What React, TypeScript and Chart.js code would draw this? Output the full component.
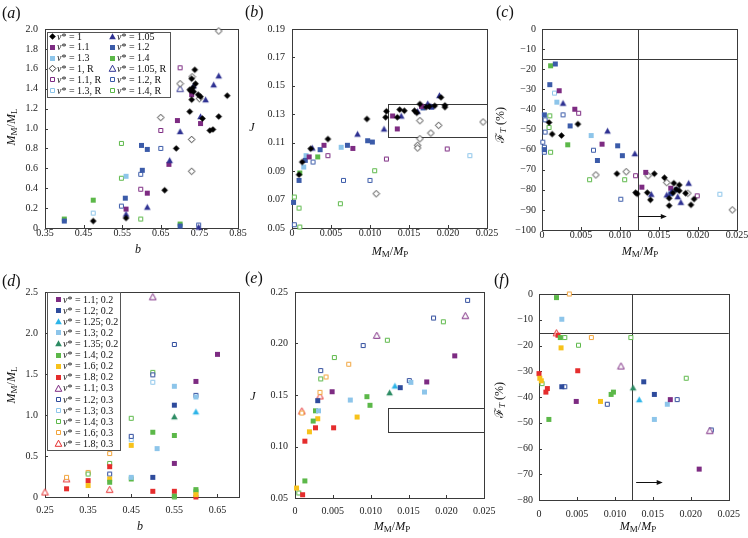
import React, { useEffect, useRef } from 'react';
import { Chart, registerables } from 'chart.js';
Chart.register(...registerables);

const SERIF = '"Liberation Serif", "DejaVu Serif", "Times New Roman", serif';

// ---------------- series labels ----------------
const ABC_LABELS = ['ν* = 1', 'ν* = 1.05', 'ν* = 1.1', 'ν* = 1.2', 'ν* = 1.3', 'ν* = 1.4',
  'ν* = 1, R', 'ν* = 1.05, R', 'ν* = 1.1, R', 'ν* = 1.2, R', 'ν* = 1.3, R', 'ν* = 1.4, R'];
const DEF_LABELS = ['ν* = 1.1; 0.2', 'ν* = 1.2; 0.2', 'ν* = 1.25; 0.2', 'ν* = 1.3; 0.2', 'ν* = 1.35; 0.2',
  'ν* = 1.4; 0.2', 'ν* = 1.6; 0.2', 'ν* = 1.8; 0.2', 'ν* = 1.1; 0.3', 'ν* = 1.2; 0.3', 'ν* = 1.3; 0.3',
  'ν* = 1.4; 0.3', 'ν* = 1.6; 0.3', 'ν* = 1.8; 0.3'];

// ---------------- panel (a): b vs MM/ML ----------------
const A_NU1 = [[0.475, 0.07], [0.56, 0.10], [0.66, 0.38], [0.69, 0.80], [0.725, 1.17], [0.725, 1.39], [0.73, 1.50], [0.738, 1.59], [0.74, 1.45], [0.733, 1.41], [0.728, 1.38], [0.73, 1.29], [0.735, 1.37], [0.747, 1.34], [0.753, 1.32], [0.758, 1.10], [0.777, 0.98], [0.785, 0.99], [0.80, 1.12], [0.822, 1.33]];
const A_NU105 = [[0.56, 0.14], [0.615, 0.21], [0.673, 0.68], [0.70, 0.97], [0.735, 1.43], [0.766, 1.29], [0.753, 1.12], [0.787, 1.44], [0.80, 1.53], [0.748, 0.01]];
const A_NU11 = [[0.56, 0.19], [0.615, 0.35], [0.671, 0.64], [0.693, 1.08], [0.73, 1.34], [0.753, 1.05]];
const A_NU12 = [[0.40, 0.07], [0.558, 0.30], [0.60, 0.83], [0.615, 0.79], [0.602, 0.58], [0.70, 0.02]];
const A_NU13 = [[0.56, 0.52]];
const A_NU14 = [[0.40, 0.09], [0.475, 0.28], [0.70, 0.04]];
const A_NU1R = [[0.80, 1.98], [0.731, 1.52], [0.70, 1.45], [0.65, 1.11], [0.73, 0.89], [0.73, 0.57], [0.75, 1.30]];
const A_NU105R = [[0.70, 1.40]];
const A_NU11R = [[0.598, 0.39], [0.65, 0.98], [0.70, 1.61]];
const A_NU12R = [[0.548, 0.22], [0.598, 0.54], [0.65, 0.80], [0.748, 0.03]];
const A_NU13R = [[0.475, 0.15]];
const A_NU14R = [[0.548, 0.85], [0.548, 0.50], [0.598, 0.09]];

// ---------------- panel (b): MM/MP vs J ----------------
const B_NU1 = [[0.0009, 0.0875], [0.0013, 0.0964], [0.0024, 0.1058], [0.0046, 0.1126], [0.0096, 0.1267], [0.0120, 0.1279], [0.0121, 0.1321], [0.0135, 0.1279], [0.0138, 0.1333], [0.0144, 0.1325], [0.0157, 0.1325], [0.0160, 0.131], [0.0164, 0.1372], [0.0172, 0.1351], [0.0176, 0.1356], [0.0183, 0.136], [0.0191, 0.1419], [0.0196, 0.1363], [0.0196, 0.135]];
const B_NU105 = [[0.0026, 0.1063], [0.0084, 0.1161], [0.0118, 0.1197], [0.0140, 0.1288], [0.0161, 0.1321], [0.0174, 0.1375], [0.0178, 0.1356], [0.0189, 0.1433]];
const B_NU11 = [[0.0022, 0.100], [0.0041, 0.1082], [0.0078, 0.106], [0.0129, 0.1288], [0.0135, 0.1197], [0.0166, 0.1356]];
const B_NU12 = [[0.0002, 0.068], [0.0009, 0.0835], [0.0017, 0.0976], [0.0036, 0.1051], [0.0071, 0.1082], [0.0097, 0.1114], [0.0103, 0.1105], [0.0168, 0.1345], [0.0179, 0.135]];
const B_NU13 = [[0.0015, 0.0929], [0.0018, 0.1009], [0.0063, 0.1068]];
const B_NU14 = [[0.0010, 0.0887], [0.0033, 0.100]];
const B_NU1R = [[0.0108, 0.0741], [0.0161, 0.1082], [0.0161, 0.1063], [0.0164, 0.1128], [0.0164, 0.1255], [0.0178, 0.1168], [0.0188, 0.1222], [0.0245, 0.1246]];
const B_NU105R: number[][] = [];
const B_NU11R = [[0.0046, 0.1009], [0.0121, 0.0985], [0.0199, 0.1056]];
const B_NU12R = [[0.0003, 0.0523], [0.0027, 0.0964], [0.0066, 0.0835], [0.0100, 0.0835]];
const B_NU13R = [[0.0228, 0.1009]];
const B_NU14R = [[0.0003, 0.0718], [0.0009, 0.064], [0.0010, 0.0507], [0.0062, 0.0671], [0.0106, 0.0903]];
const B_BOX_X = [0.0123, 0.025];
const B_BOX_Y = [0.114, 0.137];

// ---------------- panel (c): MM/MP vs F_T (%) ----------------
const C_NU1 = [[0.0009, -46.5], [0.0013, -52.3], [0.0025, -53], [0.0046, -47.3], [0.0096, -72], [0.0120, -81.4], [0.0122, -82], [0.0135, -81.4], [0.0139, -85], [0.0144, -72], [0.0157, -74], [0.0163, -84.2], [0.0163, -87.9], [0.0168, -81.5], [0.0169, -76.7], [0.0172, -79.7], [0.0176, -77.6], [0.0176, -80.5], [0.0184, -81.7], [0.0191, -87.5], [0.0195, -84.6]];
const C_NU105 = [[0.0027, -36.9], [0.0084, -50.7], [0.0119, -62], [0.0140, -82.2], [0.0160, -82.5], [0.0166, -81], [0.0174, -83.4], [0.0178, -86.2], [0.0188, -76.7]];
const C_NU11 = [[0.0022, -30.7], [0.0042, -39.9], [0.0077, -57.3], [0.0128, -78.7], [0.0133, -71.3], [0.0165, -79.2]];
const C_NU12 = [[0.0017, -17.4], [0.0010, -27.7], [0.0003, -42.7], [0.0036, -48.2], [0.0003, -60], [0.0071, -65.4], [0.0097, -58.1], [0.0103, -63], [0.0165, -82], [0.0172, -80]];
const C_NU13 = [[0.0019, -36.4], [0.0063, -53]];
const C_NU14 = [[0.0011, -18.3], [0.0033, -57.6]];
const C_NU1R = [[0.0069, -72.6], [0.0108, -71], [0.0136, -73], [0.0160, -76.4], [0.0187, -81.7], [0.0244, -90]];
const C_NU105R: number[][] = [];
const C_NU11R = [[0.0047, -41.9], [0.0120, -73], [0.0199, -83]];
const C_NU12R = [[0.0027, -42.7], [0.0004, -45.2], [0.0004, -51.3], [0.0001, -56.3], [0.0003, -58.8], [0.0003, -61.3], [0.0066, -60.3], [0.0101, -84.7]];
const C_NU13R = [[0.0016, -31.9], [0.0228, -82.2]];
const C_NU14R = [[0.0010, -43.2], [0.0009, -49], [0.0003, -59.3], [0.0011, -61.3], [0.0061, -75], [0.0106, -75]];
const C_VLINE_X = 0.0123;
const C_HLINE_Y = -15;
const C_ARROW_X = [0.0123, 0.016];
const C_ARROW_Y = -93;

// ---------------- panel (d): b vs MM/ML ----------------
const D_11_2 = [[0.55, 0.41], [0.60, 1.41], [0.65, 1.74]];
const D_12_2 = [[0.50, 0.24], [0.55, 1.12]];
const D_125_2 = [[0.60, 1.04]];
const D_13_2 = [[0.45, 0.24], [0.51, 0.59], [0.55, 1.35], [0.60, 1.22]];
const D_135_2 = [[0.55, 0.98]];
const D_14_2 = [[0.40, 0.18], [0.45, 0.22], [0.50, 0.79], [0.55, 0.75], [0.60, 0.09], [0.55, 0.01]];
const D_16_2 = [[0.35, 0.14], [0.40, 0.22], [0.45, 0.63], [0.60, 0.03]];
const D_18_2 = [[0.30, 0.10], [0.35, 0.20], [0.40, 0.37], [0.50, 0.07], [0.55, 0.07], [0.60, 0.0]];
const D_11_3 = [[0.50, 2.44]];
const D_12_3 = [[0.40, 0.28], [0.45, 0.74], [0.50, 1.49], [0.55, 1.86], [0.60, 1.24]];
const D_13_3 = [[0.45, 0.70], [0.50, 1.40]];
const D_14_3 = [[0.35, 0.28], [0.40, 0.41], [0.45, 0.96], [0.50, 1.52], [0.55, 0.0], [0.60, 0.07]];
const D_16_3 = [[0.30, 0.24], [0.35, 0.30], [0.40, 0.53]];
const D_18_3 = [[0.25, 0.06], [0.30, 0.22], [0.40, 0.09]];

// ---------------- panel (e): MM/MP vs J ----------------
const E_11_2 = [[0.0211, 0.188], [0.0174, 0.1627], [0.0049, 0.1532]];
const E_12_2 = [[0.0139, 0.1571], [0.0030, 0.1445]];
const E_125_2 = [[0.0132, 0.1588]];
const E_13_2 = [[0.0153, 0.1623], [0.0171, 0.1529], [0.0073, 0.1451], [0.0031, 0.1347]];
const E_135_2 = [[0.0125, 0.1523]];
const E_14_2 = [[0.0095, 0.1484], [0.0099, 0.140], [0.0027, 0.1347], [0.0024, 0.1247], [0.0013, 0.0666]];
const E_16_2 = [[0.0082, 0.1286], [0.0030, 0.127], [0.0019, 0.1143], [0.0002, 0.0597]];
const E_18_2 = [[0.0027, 0.1182], [0.0051, 0.1182], [0.0013, 0.1052], [0.0010, 0.0532]];
const E_11_3 = [[0.0225, 0.227], [0.0108, 0.2078]];
const E_12_3 = [[0.0228, 0.2419], [0.0183, 0.2247], [0.0090, 0.198], [0.0034, 0.1737], [0.0151, 0.164]];
const E_13_3: number[][] = [];
const E_14_3 = [[0.0196, 0.2211], [0.0122, 0.2032], [0.0052, 0.1864], [0.0034, 0.1656], [0.0005, 0.0549]];
const E_16_3 = [[0.0071, 0.1799], [0.0041, 0.1675], [0.0033, 0.1526], [0.0009, 0.1325]];
const E_18_3 = [[0.0033, 0.149], [0.0009, 0.1344]];
const E_BOX_X = [0.0123, 0.025];
const E_BOX_Y = [0.114, 0.137];

// ---------------- panel (f): MM/MP vs F_T (%) ----------------
const F_11_2 = [[0.0049, -41.7], [0.0173, -41], [0.0211, -68]];
const F_12_2 = [[0.0030, -36], [0.0138, -34.1], [0.0152, -39]];
const F_125_2 = [[0.0132, -41]];
const F_13_2 = [[0.0030, -9.8], [0.0169, -42.8], [0.0152, -48.7]];
const F_135_2 = [[0.0124, -36.4]];
const F_14_2 = [[0.0023, -1.4], [0.0028, -16.9], [0.0095, -39], [0.0098, -38.1], [0.0013, -48.7]];
const F_16_2 = [[0.0029, -20.9], [0.0001, -32.7], [0.0003, -33.7], [0.0081, -41.7]];
const F_18_2 = [[0.0025, -16], [0.0051, -29.8], [0.0, -30.9], [0.0011, -36.7], [0.0009, -38.1]];
const F_11_3 = [[0.0108, -28], [0.0225, -53.1]];
const F_12_3 = [[0.0034, -36], [0.0090, -42.8], [0.0182, -41], [0.0227, -52.8]];
const F_13_3: number[][] = [];
const F_14_3 = [[0.0034, -16.9], [0.0121, -16.9], [0.0052, -19.9], [0.0004, -34.8], [0.0194, -32.7]];
const F_16_3 = [[0.0040, 0], [0.0069, -16.9]];
const F_18_3 = [[0.0023, -15.1]];
const F_VLINE_X = 0.0123;
const F_HLINE_Y = -15;
const F_ARROW_X = [0.0128, 0.0163];
const F_ARROW_Y = -73;

// ---------------- ticks ----------------
const A_XTICKS = [0.35, 0.45, 0.55, 0.65, 0.75, 0.85];
const A_YTICKS = [0, 0.2, 0.4, 0.6, 0.8, 1.0, 1.2, 1.4, 1.6, 1.8, 2.0];
const MP_XTICKS = [0, 0.005, 0.010, 0.015, 0.020, 0.025];
const B_YTICKS = [0.05, 0.07, 0.09, 0.11, 0.13, 0.15, 0.17, 0.19];
const C_YTICKS = [0, -10, -20, -30, -40, -50, -60, -70, -80, -90, -100];
const D_XTICKS = [0.25, 0.35, 0.45, 0.55, 0.65];
const D_YTICKS = [0, 0.5, 1.0, 1.5, 2.0, 2.5];
const E_YTICKS = [0.05, 0.10, 0.15, 0.20, 0.25];
const F_YTICKS = [0, -10, -20, -30, -40, -50, -60, -70, -80];

// ---------------- styles ----------------
const ABC_SHAPES = ['diamond', 'triangle', 'square', 'square', 'square', 'square', 'diamond', 'triangle', 'square', 'square', 'square', 'square'];
const ABC_COLORS = ['#000000', '#2e3192', '#7d2b82', '#3b5ba9', '#8dc5ea', '#5cb849', '#333333', '#2e3192', '#7d2b82', '#3b5ba9', '#8dc5ea', '#5cb849'];
const ABC_FILLED = [true, true, true, true, true, true, false, false, false, false, false, false];
const DEF_SHAPES = ['square', 'square', 'triangle', 'square', 'triangle', 'square', 'square', 'square', 'triangle', 'square', 'square', 'square', 'square', 'triangle'];
const DEF_COLORS = ['#7d2b82', '#2e4b9c', '#2cb4e8', '#8dc5ea', '#2c8b63', '#5cb849', '#f7c21b', '#e52d2d', '#7d2b82', '#2e4b9c', '#8dc5ea', '#5cb849', '#f1a43c', '#e52d2d'];
const DEF_FILLED = [true, true, true, true, true, true, true, true, false, false, false, false, false, false];

const fmtFixed = (n: number) => (v: number) => v.toFixed(n);
const fmtZero = (n: number) => (v: number) => (v === 0 ? '0' : v.toFixed(n));
const fmtNeg = (v: number) => (v === 0 ? '0' : '\u2212' + Math.abs(v));

type Panel = {
  box: number[]; plot: number[]; xr: number[]; yr: number[];
  xTicks: number[]; yTicks: number[]; xFmt: (v: number) => string; yFmt: (v: number) => string;
  xPad: number; yPad: number;
  labels: string[]; shapes: string[]; colors: string[]; filled: boolean[]; data: number[][][];
  rect?: { x: number[]; y: number[] };
  vline?: number; hline?: number;
  arrow?: { x: number[]; y: number };
  legend?: { x: number; y: number; w: number; h: number; cols: number; colX: number[]; rowY0: number; rowH: number };
};

const PANELS: Panel[] = [
  {
    box: [0, 0, 258, 262], plot: [45, 29, 238, 228], xr: [0.35, 0.85], yr: [0, 2],
    xTicks: A_XTICKS, yTicks: A_YTICKS, xFmt: fmtFixed(2), yFmt: fmtZero(1), xPad: -1, yPad: 7,
    labels: ABC_LABELS, shapes: ABC_SHAPES, colors: ABC_COLORS, filled: ABC_FILLED,
    data: [A_NU1, A_NU105, A_NU11, A_NU12, A_NU13, A_NU14, A_NU1R, A_NU105R, A_NU11R, A_NU12R, A_NU13R, A_NU14R],
    legend: { x: 2, y: 3, w: 123, h: 65, cols: 2, colX: [7, 67], rowY0: 7.5, rowH: 10.8 },
  },
  {
    box: [245, 0, 258, 262], plot: [292, 29, 487, 228], xr: [0, 0.025], yr: [0.05, 0.19],
    xTicks: MP_XTICKS, yTicks: B_YTICKS, xFmt: fmtZero(3), yFmt: fmtFixed(2), xPad: -1, yPad: 7,
    labels: ABC_LABELS, shapes: ABC_SHAPES, colors: ABC_COLORS, filled: ABC_FILLED,
    data: [B_NU1, B_NU105, B_NU11, B_NU12, B_NU13, B_NU14, B_NU1R, B_NU105R, B_NU11R, B_NU12R, B_NU13R, B_NU14R],
    rect: { x: B_BOX_X, y: B_BOX_Y },
  },
  {
    box: [495, 0, 253, 262], plot: [542, 29, 737, 230], xr: [0, 0.025], yr: [-100, 0],
    xTicks: MP_XTICKS, yTicks: C_YTICKS, xFmt: fmtZero(3), yFmt: fmtNeg, xPad: -1, yPad: 6,
    labels: ABC_LABELS, shapes: ABC_SHAPES, colors: ABC_COLORS, filled: ABC_FILLED,
    data: [C_NU1, C_NU105, C_NU11, C_NU12, C_NU13, C_NU14, C_NU1R, C_NU105R, C_NU11R, C_NU12R, C_NU13R, C_NU14R],
    vline: C_VLINE_X, hline: C_HLINE_Y, arrow: { x: C_ARROW_X, y: C_ARROW_Y },
  },
  {
    box: [0, 265, 258, 273], plot: [45, 292, 239, 497], xr: [0.25, 0.7], yr: [0, 2.5],
    xTicks: D_XTICKS, yTicks: D_YTICKS, xFmt: fmtFixed(2), yFmt: fmtZero(1), xPad: 7.5, yPad: 7,
    labels: DEF_LABELS, shapes: DEF_SHAPES, colors: DEF_COLORS, filled: DEF_FILLED,
    data: [D_11_2, D_12_2, D_125_2, D_13_2, D_135_2, D_14_2, D_16_2, D_18_2, D_11_3, D_12_3, D_13_3, D_14_3, D_16_3, D_18_3],
    legend: { x: 2, y: 0, w: 73, h: 158, cols: 1, colX: [13], rowY0: 7.5, rowH: 11.1 },
  },
  {
    box: [245, 265, 258, 273], plot: [295, 292, 489, 498], xr: [0, 0.025], yr: [0.05, 0.25],
    xTicks: MP_XTICKS, yTicks: E_YTICKS, xFmt: fmtZero(3), yFmt: fmtFixed(2), xPad: 7.5, yPad: 7,
    labels: DEF_LABELS, shapes: DEF_SHAPES, colors: DEF_COLORS, filled: DEF_FILLED,
    data: [E_11_2, E_12_2, E_125_2, E_13_2, E_135_2, E_14_2, E_16_2, E_18_2, E_11_3, E_12_3, E_13_3, E_14_3, E_16_3, E_18_3],
    rect: { x: E_BOX_X, y: E_BOX_Y },
  },
  {
    box: [495, 265, 253, 273], plot: [539, 294, 737, 500], xr: [0, 0.025], yr: [-80, 0],
    xTicks: MP_XTICKS, yTicks: F_YTICKS, xFmt: fmtZero(3), yFmt: fmtNeg, xPad: 8, yPad: 6,
    labels: DEF_LABELS, shapes: DEF_SHAPES, colors: DEF_COLORS, filled: DEF_FILLED,
    data: [F_11_2, F_12_2, F_125_2, F_13_2, F_135_2, F_14_2, F_16_2, F_18_2, F_11_3, F_12_3, F_13_3, F_14_3, F_16_3, F_18_3],
    vline: F_VLINE_X, hline: F_HLINE_Y, arrow: { x: F_ARROW_X, y: F_ARROW_Y },
  },
];

function makeMarker(shape: string, color: string, filled: boolean): HTMLCanvasElement {
  const c = document.createElement('canvas');
  c.width = 9; c.height = 9;
  const g = c.getContext('2d')!;
  g.lineWidth = 1;
  g.fillStyle = filled ? color : '#ffffff';
  g.strokeStyle = color;
  g.beginPath();
  if (shape === 'square') {
    if (filled) g.rect(2, 2, 5, 5); else g.rect(2.5, 2.5, 4, 4);
  } else if (shape === 'triangle') {
    g.moveTo(4.5, 1.2); g.lineTo(7.8, 7.3); g.lineTo(1.2, 7.3); g.closePath();
  } else {
    g.moveTo(4.5, 1.2); g.lineTo(7.8, 4.5); g.lineTo(4.5, 7.8); g.lineTo(1.2, 4.5); g.closePath();
  }
  g.fill();
  if (!filled) g.stroke();
  return c;
}

function makeDecor(p: Panel, markers: HTMLCanvasElement[]) {
  const R = (v: number) => Math.round(v) + 0.5;
  return {
    id: 'decor',
    beforeDatasetsDraw(chart: any) {
      const { ctx, chartArea: ca, scales } = chart;
      const xs = scales.x, ys = scales.y;
      ctx.save();
      ctx.strokeStyle = '#3a3a3a';
      ctx.lineWidth = 1;
      ctx.beginPath();
      for (const t of xs.ticks) {
        const px = R(xs.getPixelForValue(t.value));
        ctx.moveTo(px, ca.bottom); ctx.lineTo(px, ca.bottom - 3);
      }
      for (const t of ys.ticks) {
        const py = R(ys.getPixelForValue(t.value));
        ctx.moveTo(ca.left, py); ctx.lineTo(ca.left + 3, py);
      }
      ctx.stroke();
      ctx.strokeRect(R(ca.left), R(ca.top), Math.round(ca.right) - Math.round(ca.left), Math.round(ca.bottom) - Math.round(ca.top));
      if (p.rect) {
        const x1 = R(xs.getPixelForValue(p.rect.x[0])), x2 = R(xs.getPixelForValue(p.rect.x[1]));
        const y1 = R(ys.getPixelForValue(p.rect.y[1])), y2 = R(ys.getPixelForValue(p.rect.y[0]));
        ctx.strokeRect(x1, y1, x2 - x1, y2 - y1);
      }
      ctx.beginPath();
      if (p.vline !== undefined) {
        const px = R(xs.getPixelForValue(p.vline));
        ctx.moveTo(px, ca.top); ctx.lineTo(px, ca.bottom);
      }
      if (p.hline !== undefined) {
        const py = R(ys.getPixelForValue(p.hline));
        ctx.moveTo(ca.left, py); ctx.lineTo(ca.right, py);
      }
      ctx.stroke();
      ctx.restore();
    },
    afterDatasetsDraw(chart: any) {
      const { ctx, chartArea: ca, scales } = chart;
      const xs = scales.x, ys = scales.y;
      ctx.save();
      if (p.arrow) {
        const x1 = xs.getPixelForValue(p.arrow.x[0]), x2 = xs.getPixelForValue(p.arrow.x[1]);
        const y = R(ys.getPixelForValue(p.arrow.y));
        ctx.strokeStyle = '#111'; ctx.fillStyle = '#111'; ctx.lineWidth = 1;
        ctx.beginPath(); ctx.moveTo(x1, y); ctx.lineTo(x2 - 4, y); ctx.stroke();
        ctx.beginPath(); ctx.moveTo(x2, y); ctx.lineTo(x2 - 6, y - 2.5); ctx.lineTo(x2 - 6, y + 2.5); ctx.closePath(); ctx.fill();
      }
      if (p.legend) {
        const L = p.legend;
        const x0 = Math.round(ca.left + L.x), y0 = Math.round(ca.top + L.y);
        ctx.fillStyle = '#ffffff';
        ctx.fillRect(x0, y0, L.w, L.h);
        ctx.strokeStyle = '#555';
        ctx.lineWidth = 1;
        ctx.strokeRect(x0 + 0.5, y0 + 0.5, L.w, L.h);
        ctx.textBaseline = 'middle';
        ctx.fillStyle = '#111';
        p.labels.forEach((lab, i) => {
          const col = i % L.cols, row = Math.floor(i / L.cols);
          const cy = ca.top + L.rowY0 + row * L.rowH;
          const mx = ca.left + L.colX[col];
          ctx.drawImage(markers[i], Math.round(mx - 4.5), Math.round(cy - 4.5));
          let tx = mx + 5;
          ctx.font = `italic 10px ${SERIF}`;
          ctx.fillText(lab.charAt(0), tx, cy + 0.5);
          tx += ctx.measureText(lab.charAt(0)).width;
          ctx.font = `10px ${SERIF}`;
          ctx.fillText(lab.slice(1), tx, cy + 0.5);
        });
      }
      ctx.restore();
    },
  };
}

const subStyle: React.CSSProperties = { fontSize: '75%', verticalAlign: '-0.3em', fontStyle: 'normal' };
const MRatio = ({ d }: { d: string }) => (
  <span><i>M</i><span style={subStyle}>M</span>/<i>M</i><span style={subStyle}>{d}</span></span>
);
const FT = () => (
  <span>ℱ<span style={{ ...subStyle, fontStyle: 'italic' }}>T</span> (%)</span>
);

const abs = (x: number, y: number, rot = false): React.CSSProperties => ({
  position: 'absolute', left: x, top: y, whiteSpace: 'nowrap', fontFamily: SERIF, fontSize: 12, color: '#111',
  transform: rot ? 'translate(-50%,-50%) rotate(-90deg)' : 'translate(-50%,-50%)', lineHeight: 1,
});
const letter = (x: number, y: number): React.CSSProperties => ({
  position: 'absolute', left: x, top: y, fontFamily: SERIF, fontSize: 16, color: '#111', lineHeight: 1, whiteSpace: 'nowrap',
});

export default function App() {
  const refs = useRef<(HTMLCanvasElement | null)[]>([]);
  useEffect(() => {
    const charts: Chart[] = [];
    PANELS.forEach((p, pi) => {
      const cv = refs.current[pi];
      if (!cv) return;
      const markers = p.labels.map((_, i) => makeMarker(p.shapes[i], p.colors[i], p.filled[i]));
      const [bl, bt, bw, bh] = p.box;
      const [pl, pt, pr, pb] = p.plot;
      const chart = new Chart(cv, {
        type: 'scatter',
        data: {
          datasets: p.labels.map((lab, i) => ({
            label: lab,
            data: p.data[i].map(([x, y]) => ({ x, y })),
            pointStyle: markers[i] as any,
            pointRadius: 4,
            pointHoverRadius: 4,
            clip: false as any,
          })),
        },
        options: {
          responsive: false,
          animation: false,
          devicePixelRatio: 1,
          events: [],
          layout: { padding: { top: pt - bt, right: bl + bw - pr, left: 0, bottom: 0 } },
          plugins: { legend: { display: false }, tooltip: { enabled: false }, title: { display: false } },
          scales: {
            x: {
              type: 'linear', min: p.xr[0], max: p.xr[1],
              grid: { display: false, drawTicks: false }, border: { display: false },
              ticks: {
                color: '#222', font: { family: SERIF, size: 10 }, padding: p.xPad, maxRotation: 0, autoSkip: false,
                callback: (v: any) => p.xFmt(Number(v)),
              },
              afterBuildTicks: (s: any) => { s.ticks = p.xTicks.map((v) => ({ value: v })); },
              afterFit: (s: any) => { s.height = bt + bh - pb; },
            },
            y: {
              type: 'linear', min: p.yr[0], max: p.yr[1],
              grid: { display: false, drawTicks: false }, border: { display: false },
              ticks: {
                color: '#222', font: { family: SERIF, size: 10 }, padding: p.yPad, autoSkip: false,
                callback: (v: any) => p.yFmt(Number(v)),
              },
              afterBuildTicks: (s: any) => { s.ticks = p.yTicks.map((v) => ({ value: v })); },
              afterFit: (s: any) => { s.width = pl - bl; },
            },
          },
        },
        plugins: [makeDecor(p, markers) as any],
      });
      charts.push(chart);
    });
    return () => charts.forEach((c) => c.destroy());
  }, []);

  return (
    <div style={{ position: 'fixed', left: 0, top: 0, width: 748, height: 538, background: '#fff', overflow: 'hidden' }}>
      {PANELS.map((p, i) => (
        <canvas
          key={i}
          ref={(el) => { refs.current[i] = el; }}
          width={p.box[2]}
          height={p.box[3]}
          style={{ position: 'absolute', left: p.box[0], top: p.box[1], width: p.box[2], height: p.box[3] }}
        />
      ))}
      <div style={letter(2, 5)}>(<i>a</i>)</div>
      <div style={letter(245, 4)}>(<i>b</i>)</div>
      <div style={letter(496, 4)}>(<i>c</i>)</div>
      <div style={letter(2, 273)}>(<i>d</i>)</div>
      <div style={letter(245, 270)}>(<i>e</i>)</div>
      <div style={letter(494, 272)}>(<i>f</i>)</div>

      <div style={abs(12, 127, true)}><MRatio d="L" /></div>
      <div style={abs(252, 127)}><i>J</i></div>
      <div style={abs(501, 125, true)}><FT /></div>
      <div style={abs(12, 385, true)}><MRatio d="L" /></div>
      <div style={abs(253, 396)}><i>J</i></div>
      <div style={abs(500, 400, true)}><FT /></div>

      <div style={abs(138, 249)}><i>b</i></div>
      <div style={abs(390, 252)}><MRatio d="P" /></div>
      <div style={abs(640, 252)}><MRatio d="P" /></div>
      <div style={abs(140, 526)}><i>b</i></div>
      <div style={abs(392, 527)}><MRatio d="P" /></div>
      <div style={abs(638, 527)}><MRatio d="P" /></div>
    </div>
  );
}
